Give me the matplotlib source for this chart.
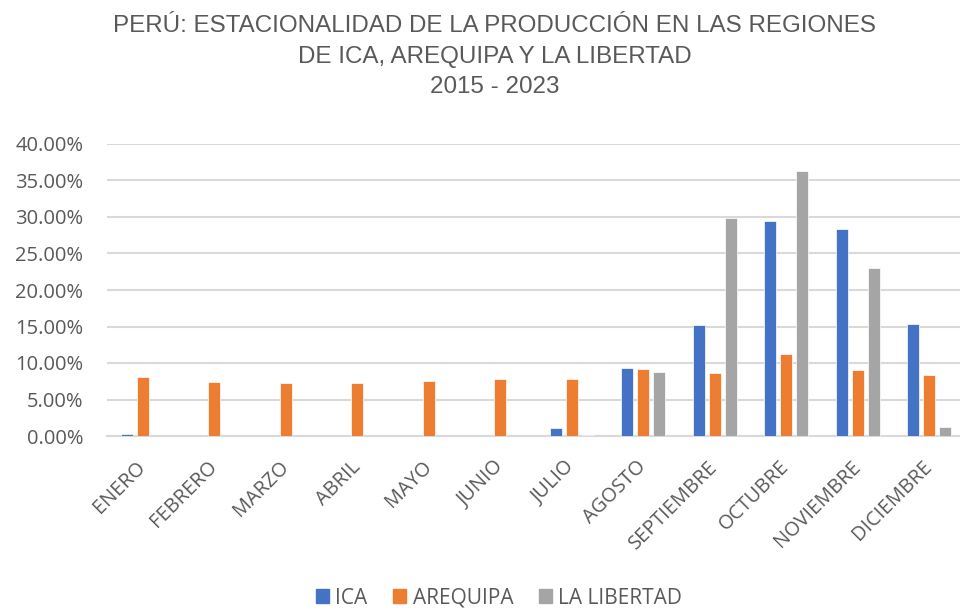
import numpy as np
import matplotlib.pyplot as plt
from matplotlib.ticker import PercentFormatter
from matplotlib.patches import Patch
from matplotlib.transforms import ScaledTranslation

meses = ['ENERO', 'FEBRERO', 'MARZO', 'ABRIL', 'MAYO', 'JUNIO', 'JULIO',
         'AGOSTO', 'SEPTIEMBRE', 'OCTUBRE', 'NOVIEMBRE', 'DICIEMBRE']
ica = [0.23, 0, 0, 0, 0, 0, 1.16, 9.27, 15.27, 29.5, 28.36, 15.32]
arequipa = [8.15, 7.45, 7.31, 7.22, 7.55, 7.82, 7.78, 9.18, 8.59, 11.23, 9.09, 8.32]
la_libertad = [0, 0, 0, 0, 0, 0, 0.14, 8.73, 29.86, 36.27, 23.05, 1.18]

series = [('ICA', ica, '#4472C4'),
          ('AREQUIPA', arequipa, '#ED7D31'),
          ('LA LIBERTAD', la_libertad, '#A5A5A5')]

txt = '#595959'
fig = plt.figure(figsize=(9.6, 6.09), dpi=100)
ax = fig.add_axes([107 / 960, 173 / 609, 858 / 960, 292 / 609])

x = np.arange(len(meses))
w = 0.168
step = 0.224
for i, (nombre, vals, col) in enumerate(series):
    ax.bar(x + (i - 1) * step, np.array(vals) / 100, width=w, color=col,
           edgecolor='white', linewidth=0.5, zorder=3)

ax.set_xlim(-0.5, 11.5)
ax.set_ylim(0, 0.40)
ax.set_yticks(np.arange(0, 0.401, 0.05))
ax.yaxis.set_major_formatter(PercentFormatter(1.0, decimals=2))
ax.grid(axis='y', color='#d9d9d9', linewidth=1.5, zorder=0)
for s in ['top', 'right', 'left']:
    ax.spines[s].set_visible(False)
ax.spines['bottom'].set_color('#d9d9d9')
ax.spines['bottom'].set_linewidth(1.5)
ax.tick_params(length=0, colors=txt)
ax.tick_params(axis='y', pad=17, labelsize=14.5)
ax.set_xticks(x)
ax.set_xticklabels(meses, rotation=45, ha='right', rotation_mode='anchor',
                   fontsize=14.3, color=txt)
ax.tick_params(axis='x', pad=8)
shift = ScaledTranslation(-7 / 100, -10 / 100, fig.dpi_scale_trans)
for lab in ax.get_xticklabels():
    lab.set_family('Open Sans')
    lab.set_transform(lab.get_transform() + shift)
for lab in ax.get_yticklabels():
    lab.set_family('Open Sans')

fig.text(0.515, 0.975,
         'PERÚ: ESTACIONALIDAD DE LA PRODUCCIÓN EN LAS REGIONES\nDE ICA, AREQUIPA Y LA LIBERTAD\n2015 - 2023',
         ha='center', va='top', fontsize=17.4, color=txt,
         family=['Liberation Sans Narrow', 'Liberation Sans'], linespacing=1.5)

handles = [Patch(color=c, label=n) for n, v, c in series]
fig.legend(handles=handles, loc='center', bbox_to_anchor=(0.52, 0.018),
           ncol=3, frameon=False, prop={'family': 'Open Sans', 'size': 15},
           labelcolor=txt, handlelength=0.62, handleheight=0.62,
           handletextpad=0.3, columnspacing=1.25)

fig.savefig('out.png', dpi=100)
